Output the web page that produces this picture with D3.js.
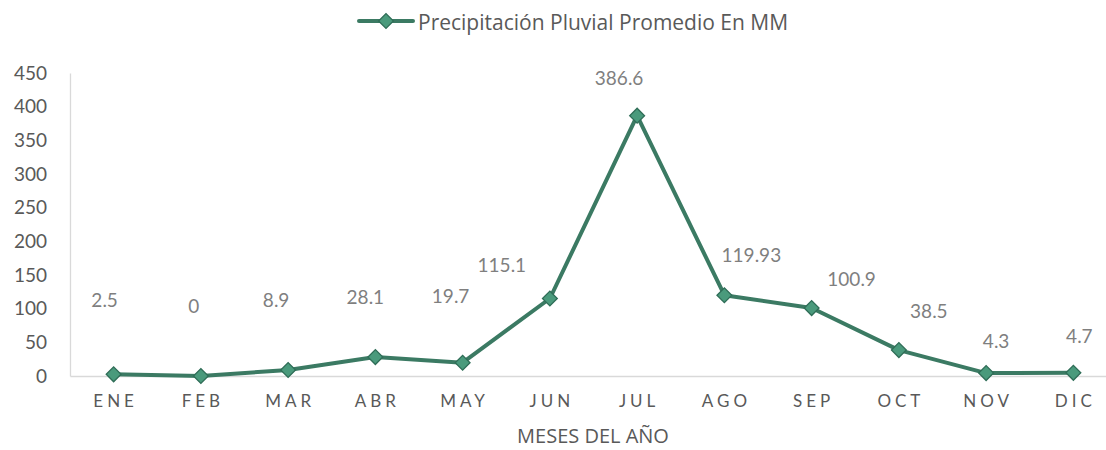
<!DOCTYPE html>
<html><head><meta charset="utf-8">
<script src="https://cdn.jsdelivr.net/npm/d3@7"></script>
<style>body{margin:0;background:#fff;} svg{display:block;font-family:Lato,"Open Sans",sans-serif;}</style>
</head><body><svg id="c" width="1106" height="450"></svg>
<script>
const months = ["ENE","FEB","MAR","ABR","MAY","JUN","JUL","AGO","SEP","OCT","NOV","DIC"];
const values = [2.5,0,8.9,28.1,19.7,115.1,386.6,119.93,100.9,38.5,4.3,4.7];
const valueLabels = ["2.5","0","8.9","28.1","19.7","115.1","386.6","119.93","100.9","38.5","4.3","4.7"];
const yTicks = [0,50,100,150,200,250,300,350,400,450];
const seriesName = "Precipitación Pluvial Promedio En MM";
const axisTitle = "MESES DEL AÑO";
// manual label placement (layout, not data)
const labelShift = [[-9,-74],[-7,-70],[-12,-70],[-10,-60],[-12,-66],[-48,-33],[-18,-37],[27,-40],[40,-29],[30,-39],[10,-32],[6,-36]];

const svg = d3.select("#c");
const L = 70, R = 1117, T = 73, B = 376;
const x = d3.scaleBand().domain(months).range([L, R]);
const y = d3.scaleLinear().domain([0,450]).range([B, T]);
const lineC = "#3b7a63", fillC = "#4a9a7c", strokeC = "#2f6d57", txt = "#595959";

const ya = svg.append("g").attr("transform",`translate(${L},0)`)
  .call(d3.axisLeft(y).tickValues(yTicks).tickSize(0).tickPadding(23));
ya.select(".domain").attr("stroke","#d9d9d9").attr("stroke-width",1.3);
ya.selectAll("text").attr("fill",txt).style("font-size","19px").style("font-family","Lato,'Open Sans',sans-serif");

const xa = svg.append("g").attr("transform",`translate(0,${B})`)
  .call(d3.axisBottom(x).tickSize(0).tickPadding(19));
xa.select(".domain").attr("stroke","#d9d9d9").attr("stroke-width",1.3);
xa.selectAll("text").attr("fill",txt).style("font-size","17px").style("letter-spacing","4px")
  .style("font-family","Lato,'Open Sans',sans-serif").attr("dx","2px");

svg.append("text").attr("x",593).attr("y",443).attr("text-anchor","middle")
  .attr("fill",txt).style("font-size","20px").style("font-family","'Open Sans',sans-serif").text(axisTitle);

const cx = d => x(d) + x.bandwidth()/2;
svg.append("path").datum(values)
  .attr("d", d3.line().x((v,i)=>cx(months[i])).y(v=>y(v)))
  .attr("fill","none").attr("stroke",lineC).attr("stroke-width",4).attr("stroke-linejoin","round");

svg.selectAll(".pt").data(values).join("path").attr("class","pt")
  .attr("transform",(v,i)=>`translate(${cx(months[i])},${y(v)}) rotate(45)`)
  .attr("d", d3.symbol().type(d3.symbolSquare).size(110))
  .attr("fill",fillC).attr("stroke",strokeC).attr("stroke-width",1.3);

svg.selectAll(".lbl").data(values).join("text").attr("class","lbl")
  .attr("x",(v,i)=>cx(months[i])+labelShift[i][0])
  .attr("y",(v,i)=>y(v)+labelShift[i][1])
  .attr("dy","0.35em").attr("text-anchor","middle")
  .attr("fill","#7f7f7f").style("font-size","19px")
  .text((v,i)=>valueLabels[i]);

const lg = svg.append("g");
lg.append("line").attr("x1",359).attr("x2",413).attr("y1",21).attr("y2",21)
  .attr("stroke",lineC).attr("stroke-width",4).attr("stroke-linecap","round");
lg.append("path").attr("transform","translate(386,21) rotate(45)")
  .attr("d", d3.symbol().type(d3.symbolSquare).size(110))
  .attr("fill",fillC).attr("stroke",strokeC).attr("stroke-width",1.3);
lg.append("text").attr("x",418).attr("y",30).attr("fill",txt).style("font-size","21px")
  .style("font-family","'Open Sans',sans-serif").text(seriesName);
</script></body></html>
